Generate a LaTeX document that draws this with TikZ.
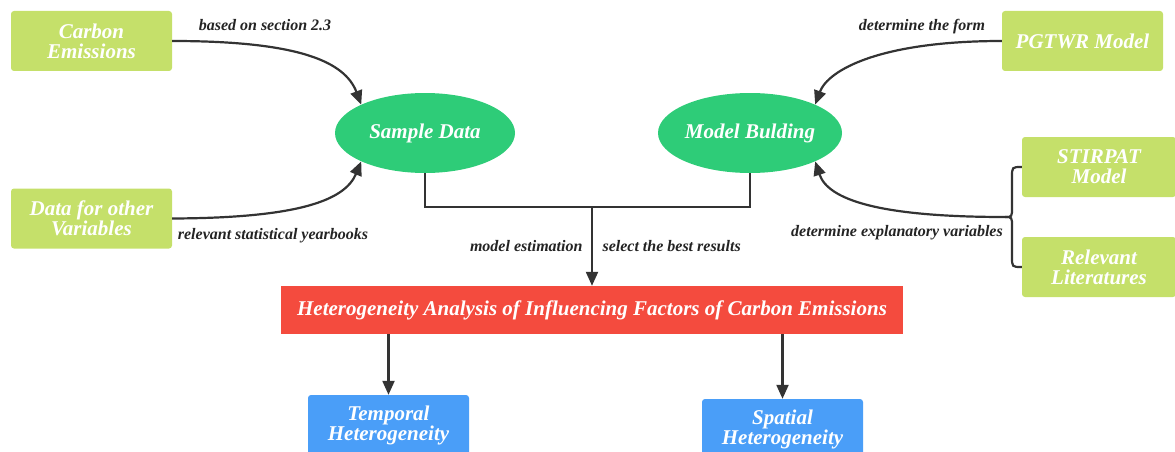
\documentclass[tikz,border=0pt]{standalone}
\usepackage{fontspec}
\setmainfont{Liberation Serif}
\usetikzlibrary{arrows.meta,shapes.geometric}
\definecolor{leaf}{HTML}{C5E06A}
\definecolor{mint}{HTML}{2ECC78}
\definecolor{alert}{HTML}{F44B3E}
\definecolor{sky}{HTML}{4A9EF8}
\definecolor{ink}{HTML}{333333}
\tikzset{
  boxtext/.style={text=white,font=\fontsize{21}{20}\selectfont\bfseries\itshape,align=center},
  srcbox/.style={boxtext,fill=leaf,rounded corners=3pt,minimum width=161pt,minimum height=60pt,inner sep=0pt},
  oval/.style={boxtext,ellipse,fill=mint,minimum width=180pt,minimum height=80pt,inner sep=0pt},
  resbox/.style={boxtext,fill=alert,minimum width=622pt,minimum height=48pt,inner sep=0pt},
  outbox/.style={boxtext,fill=sky,rounded corners=3pt,minimum width=161pt,minimum height=60pt,inner sep=0pt},
  tag/.style={text=ink!70!black,font=\fontsize{16}{18}\selectfont\bfseries\itshape},
  link/.style={draw=ink,line width=2.2pt},
  arr/.style={link,-{Triangle[length=14pt,width=12pt]}},
}
\begin{document}
\begin{tikzpicture}[x=1pt,y=-1pt]
\useasboundingbox (0,0) rectangle (1175,452);

% sources on the left
\node[srcbox] (ce) at (91.5,41) {Carbon\\Emissions};
\node[srcbox] (dv) at (91.5,218.5) {Data for other\\Variables};
% sources on the right
\node[srcbox] (pg) at (1082.5,41) {PGTWR Model};
\node[srcbox,minimum width=154pt] (st) at (1099,167) {STIRPAT\\Model};
\node[srcbox,minimum width=154pt] (rl) at (1099,267) {Relevant\\Literatures};

% intermediate steps
\node[oval] (sd) at (425,133) {Sample Data};
\node[oval] (mb) at (750,133) {Model Bulding};

% result and outputs
\node[resbox] (ha) at (592,310) {Heterogeneity Analysis of Influencing Factors of Carbon Emissions};
\node[outbox] (th) at (388.5,425) {Temporal\\Heterogeneity};
\node[outbox] (sh) at (782.5,429) {Spatial\\Heterogeneity};

% curved inputs
\draw[arr] (ce.east) .. controls (300,41) and (345,62) .. (sd.north west);
\draw[arr] (dv.east) .. controls (300,218) and (345,200) .. (sd.south west);
\draw[arr] (pg.west) .. controls (880,41) and (828,70) .. (mb.north east);

% brace joining the two right-hand sources
\coordinate (br) at (1005,217);
\draw[link] (st.west) .. controls (1012,167) and (1012,167) .. (1012,177)
  -- (1012,207) .. controls (1012,217) and (1012,217) .. (br);
\draw[link] (rl.west) .. controls (1012,267) and (1012,267) .. (1012,257)
  -- (1012,227) .. controls (1012,217) and (1012,217) .. (br);
\draw[arr] (br) .. controls (880,217) and (828,200) .. (mb.south east);

% merging the two steps
\coordinate (jn) at (592,207);
\draw[link] (sd.south) |- (jn) -| (mb.south);
\draw[arr] (jn) -- (ha.north);

% outputs
\draw[arr] (ha.south -| th.north) -- (th.north);
\draw[arr] (ha.south -| sh.north) -- (sh.north);

% labels
\node[tag] (l1) at (265,25) {based on section 2.3};
\node[tag] (l2) at (273,236) {relevant statistical yearbooks};
\node[tag] (l3) at (922,27) {determine the form};
\node[tag] (l4) at (897,233) {determine explanatory variables};
\node[tag,anchor=east] (l5) at (586,246) {model estimation};
\node[tag,anchor=west] (l6) at (599,246) {select the best results};
\end{tikzpicture}
\end{document}
